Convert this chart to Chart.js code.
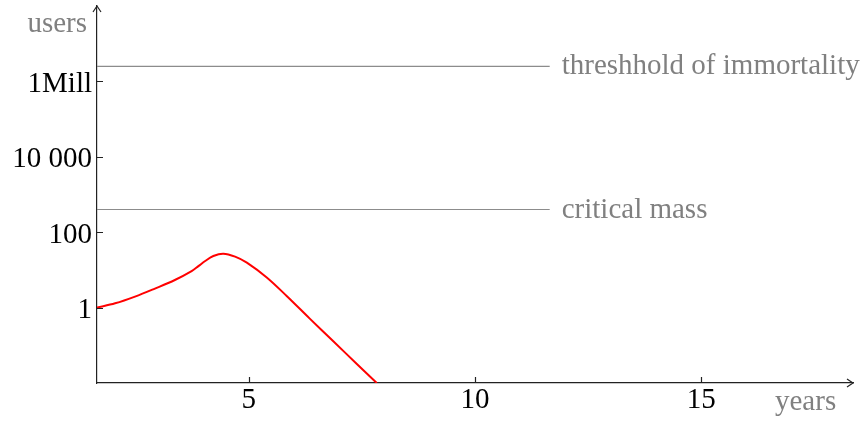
<!DOCTYPE html>
<html>
<head>
<meta charset="utf-8">
<script src="https://cdn.jsdelivr.net/npm/chart.js@4.4.1/dist/chart.umd.min.js"></script>
<style>
  html, body { margin: 0; padding: 0; background: #fff; }
  #wrap { width: 866px; height: 421px; position: relative; }
</style>
</head>
<body>
<div id="wrap"><canvas id="chart"></canvas></div>
<script>
// red curve (years vs users, log scale)
const years = [1.65, 2.05, 2.49, 2.93, 3.37, 3.74, 3.89, 4.04, 4.22, 4.44, 4.7, 4.96, 5.4, 5.84, 6.35, 6.87, 7.39, 7.83];
const users = [1, 1.3, 1.96, 3.2, 5.4, 9.3, 12.6, 17.2, 23.4, 27, 22.5, 15.6, 6.3, 2.03, 0.51, 0.128, 0.032, 0.01];

const xTickValues = [5, 10, 15];
const yTickValues = [1, 100, 10000, 1000000];
const yTickLabels = ["1", "100", "10 000", "1Mill"];

const levelValues = [2.5e6, 400];
const levelLabels = ["threshhold of immortality", "critical mass"];
const levelStart = 1.65;
const levelEnd = 11.65;

const xMin = 1.65, xMax = 18.35;
const yMin = 0.01, yMax = 1e8;

const serif = "'Liberation Serif', 'Times New Roman', serif";
const grey = "#808080";
const axisColor = "#222";

const datasets = [
  {
    data: years.map((x, i) => ({ x, y: users[i] })),
    borderColor: "#ff0000",
    borderWidth: 2,
    pointRadius: 0,
    tension: 0.35,
    fill: false,
  },
];
levelValues.forEach((v) => {
  datasets.push({
    data: [{ x: levelStart, y: v }, { x: levelEnd, y: v }],
    borderColor: "#8c8c8c",
    borderWidth: 1.2,
    pointRadius: 0,
    fill: false,
  });
});

// inward ticks, axis arrows and the grey texts
const decorations = {
  id: "decorations",
  afterDraw(chart) {
    const { ctx, chartArea, scales } = chart;
    const { left, right, top, bottom } = chartArea;
    ctx.save();
    ctx.strokeStyle = axisColor;
    ctx.lineWidth = 1.2;
    ctx.beginPath();
    yTickValues.forEach((v) => {
      const y = Math.round(scales.y.getPixelForValue(v)) + 0.5;
      ctx.moveTo(left, y);
      ctx.lineTo(left + 6, y);
    });
    xTickValues.forEach((v) => {
      const x = Math.round(scales.x.getPixelForValue(v)) + 0.5;
      ctx.moveTo(x, bottom);
      ctx.lineTo(x, bottom - 6);
    });
    // arrows
    ctx.moveTo(left - 4, top + 6);
    ctx.lineTo(left, top);
    ctx.lineTo(left + 4, top + 6);
    ctx.moveTo(right - 6, bottom - 4);
    ctx.lineTo(right, bottom);
    ctx.lineTo(right - 6, bottom + 4);
    ctx.stroke();

    ctx.fillStyle = grey;
    ctx.font = "29px " + serif;
    ctx.textBaseline = "alphabetic";
    ctx.textAlign = "right";
    ctx.fillText("users", 87, 32);
    ctx.textAlign = "left";
    ctx.fillText("years", 775, 410);
    levelValues.forEach((v, i) => {
      const x = scales.x.getPixelForValue(levelEnd) + 12;
      const y = scales.y.getPixelForValue(v) + 8;
      ctx.fillText(levelLabels[i], x, y);
    });
    ctx.restore();
  },
};

new Chart(document.getElementById("chart"), {
  type: "line",
  data: { datasets },
  plugins: [decorations],
  options: {
    responsive: true,
    maintainAspectRatio: false,
    animation: false,
    layout: { padding: { top: 6, right: 13, left: 0, bottom: 0 } },
    plugins: { legend: { display: false }, tooltip: { enabled: false } },
    scales: {
      x: {
        type: "linear",
        min: xMin,
        max: xMax,
        afterBuildTicks: (scale) => {
          scale.ticks = xTickValues.map((value) => ({ value }));
        },
        afterFit: (scale) => {
          scale.height = 38;
          scale.paddingLeft = 0;
          scale.paddingRight = 0;
        },
        grid: { display: false, drawTicks: false },
        border: { display: true, color: axisColor, width: 1.2 },
        ticks: {
          color: "#000",
          padding: 0,
          maxRotation: 0,
          font: { family: serif, size: 29 },
        },
      },
      y: {
        type: "logarithmic",
        min: yMin,
        max: yMax,
        afterBuildTicks: (scale) => {
          scale.ticks = yTickValues.map((value) => ({ value }));
        },
        afterFit: (scale) => {
          scale.width = 97;
          scale.paddingTop = 0;
          scale.paddingBottom = 0;
        },
        grid: { display: false, drawTicks: false },
        border: { display: true, color: axisColor, width: 1.2 },
        ticks: {
          color: "#000",
          padding: 5,
          labelOffset: 3,
          font: { family: serif, size: 29 },
          callback: (value) => {
            const i = yTickValues.indexOf(value);
            return i >= 0 ? yTickLabels[i] : "";
          },
        },
      },
    },
  },
});
</script>
</body>
</html>
